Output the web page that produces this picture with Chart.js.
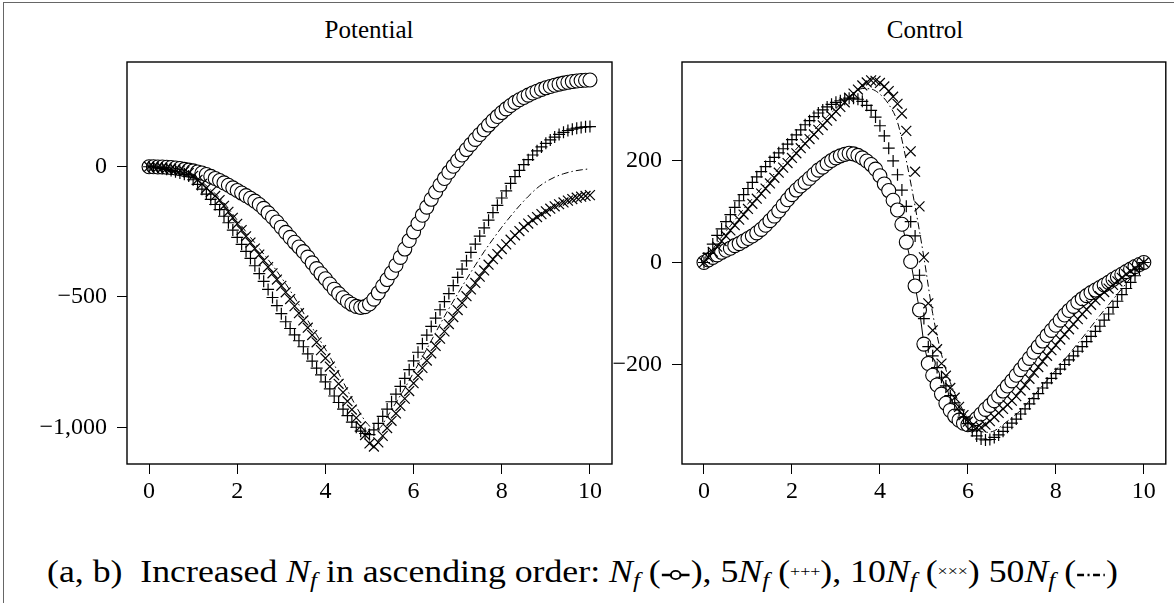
<!DOCTYPE html>
<html>
<head>
<meta charset="utf-8">
<script src="https://cdn.jsdelivr.net/npm/chart.js@4.4.0/dist/chart.umd.min.js"></script>
<style>
  body { margin: 0; background: #fff; width: 1174px; height: 603px; overflow: hidden; position: relative; font-family: 'Liberation Serif', serif; color: #000; }
  #frame { position: absolute; left: 3px; top: 2px; width: 1171px; height: 601px; border-top: 1px solid #666; border-left: 1px solid #666; }
  canvas { position: absolute; top: 0; }
  .title { position: absolute; top: 16px; font-size: 25px; line-height: 28px; transform: translateX(-50%); white-space: nowrap; }
  #caption { position: absolute; left: 47px; top: 554px; font-size: 31px; line-height: 34px; white-space: nowrap; transform-origin: 0 50%; }
  #caption sub { font-size: 0.7em; line-height: 0; vertical-align: -0.25em; }
  #caption .sm { font-size: 0.5em; vertical-align: 0.4em; }
  #caption svg { vertical-align: -0.02em; }
</style>
</head>
<body>
<div id="frame"></div>
<div class="title" style="left:369px">Potential</div>
<div class="title" style="left:925px">Control</div>
<canvas id="potential" width="630" height="510" style="left:0"></canvas>
<canvas id="control" width="584" height="510" style="left:590px"></canvas>
<div id="caption">(a, b)&nbsp; Increased <i>N<sub>f</sub></i> in ascending order: <i>N<sub>f</sub></i> (<svg width="26" height="16"><line x1="1" y1="8" x2="25" y2="8" stroke="#000" stroke-width="2.6"/><circle cx="13" cy="8" r="4.2" fill="#fff" stroke="#000" stroke-width="1.8"/></svg>), 5<i>N<sub>f</sub></i> (<span class="sm">+++</span>), 10<i>N<sub>f</sub></i> (<span class="sm">×××</span>) 50<i>N<sub>f</sub></i> (<svg width="26" height="16"><line x1="1" y1="8" x2="25" y2="8" stroke="#000" stroke-width="2.4" stroke-dasharray="6,3,1.8,3"/></svg>)</div>

<script>
// grid of the marked series (step 0.1) and of the dash-dot line (step 0.2)
const xs = [0,0.1,0.2,0.3,0.4,0.5,0.6,0.7,0.8,0.9,1,1.1,1.2,1.3,1.4,1.5,1.6,1.7,1.8,1.9,2,2.1,2.2,2.3,2.4,2.5,2.6,2.7,2.8,2.9,3,3.1,3.2,3.3,3.4,3.5,3.6,3.7,3.8,3.9,4,4.1,4.2,4.3,4.4,4.5,4.6,4.7,4.8,4.9,5,5.1,5.2,5.3,5.4,5.5,5.6,5.7,5.8,5.9,6,6.1,6.2,6.3,6.4,6.5,6.6,6.7,6.8,6.9,7,7.1,7.2,7.3,7.4,7.5,7.6,7.7,7.8,7.9,8,8.1,8.2,8.3,8.4,8.5,8.6,8.7,8.8,8.9,9,9.1,9.2,9.3,9.4,9.5,9.6,9.7,9.8,9.9,10];
const xsLine = [0,0.2,0.4,0.6,0.8,1,1.2,1.4,1.6,1.8,2,2.2,2.4,2.6,2.8,3,3.2,3.4,3.6,3.8,4,4.2,4.4,4.6,4.8,5,5.2,5.4,5.6,5.8,6,6.2,6.4,6.6,6.8,7,7.2,7.4,7.6,7.8,8,8.2,8.4,8.6,8.8,9,9.2,9.4,9.6,9.8,10];

const xTicks = [0, 2, 4, 6, 8, 10];
const potTicksY = [-1000, -500, 0];
const ctrlTicksY = [-200, 0, 200];

// Potential: Nf, 5Nf, 10Nf, 50Nf
const potNf = [0,0,-1,-1,-2,-3,-5,-7,-10,-13,
  -16,-20,-24,-30,-37,-45,-53,-62,-71,-81,
  -91,-101,-111,-121,-132,-145,-160,-177,-194,-212,
  -232,-252,-271,-290,-308,-326,-347,-369,-391,-411,
  -430,-450,-470,-487,-503,-517,-528,-536,-540,-537,
  -527,-508,-484,-458,-433,-407,-378,-348,-316,-283,
  -250,-218,-186,-155,-125,-97,-70,-45,-21,2,
  24,45,66,86,105,124,142,160,177,193,
  208,222,235,247,257,266,275,283,290,297,
  303,308,313,317,321,324,327,329,331,332,
  333];
const pot5Nf = [0,-1,-3,-6,-10,-14,-19,-24,-29,-36,
  -50,-68,-86,-105,-125,-145,-165,-190,-215,-243,
  -271,-298,-325,-352,-380,-410,-440,-471,-502,-533,
  -564,-595,-621,-645,-668,-691,-718,-746,-773,-799,
  -826,-853,-880,-905,-930,-955,-980,-1000,-1015,-1024,
  -1028,-1010,-985,-958,-930,-902,-873,-843,-812,-779,
  -745,-712,-679,-646,-613,-581,-549,-518,-487,-456,
  -425,-393,-361,-329,-297,-266,-235,-205,-176,-148,
  -120,-93,-64,-38,-14,8,27,45,61,76,
  90,103,114,124,132,139,144,148,151,153,
  154];
const pot10Nf = [0,-1,-2,-4,-6,-8,-11,-14,-17,-24,
  -35,-50,-66,-82,-97,-112,-128,-150,-173,-196,
  -219,-243,-267,-291,-314,-337,-360,-385,-409,-433,
  -457,-482,-508,-535,-562,-590,-618,-646,-674,-704,
  -735,-767,-800,-833,-866,-900,-932,-964,-997,-1030,
  -1062,-1074,-1058,-1033,-1003,-975,-947,-918,-890,-861,
  -831,-801,-772,-744,-716,-688,-660,-632,-604,-577,
  -550,-523,-497,-471,-446,-422,-398,-376,-355,-335,
  -316,-298,-280,-263,-247,-232,-218,-205,-193,-182,
  -171,-161,-152,-144,-137,-130,-124,-119,-115,-112,
  -109];
const pot50Nf = [0,-1,-4,-8,-14,-30,-58,-88,-120,-160,
  -205,-250,-292,-335,-378,-425,-475,-530,-590,-645,
  -700,-760,-825,-890,-950,-995,-1005,-960,-905,-850,
  -790,-730,-668,-605,-545,-488,-432,-378,-326,-278,
  -232,-190,-150,-114,-82,-58,-40,-27,-18,-12,
  -8];

// Control: Nf, 5Nf, 10Nf, 50Nf
const ctrlNf = [0,5,10,15,20,24,28,33,37,42,
  47,52,58,65,73,82,91,101,112,123,
  133,142,150,157,165,173,181,187,194,200,
  205,209,212,214,213,210,205,199,192,183,
  170,154,141,122,103,75,40,2,-46,-93,
  -160,-198,-221,-240,-258,-276,-290,-301,-309,-315,
  -318,-314,-306,-297,-288,-280,-271,-262,-252,-242,
  -232,-221,-210,-199,-188,-176,-165,-154,-143,-133,
  -123,-113,-103,-94,-86,-78,-71,-65,-59,-54,
  -49,-44,-39,-33,-28,-23,-18,-13,-8,-4,
  0];
const ctrl5Nf = [0,18,36,53,66,80,94,108,121,133,
  145,157,168,178,188,198,206,215,223,232,
  241,250,260,270,278,286,293,299,305,310,
  314,317,320,322,322,320,316,308,298,285,
  268,248,224,199,172,142,110,80,52,-25,
  -110,-165,-183,-206,-225,-242,-261,-275,-289,-303,
  -316,-330,-340,-346,-348,-347,-343,-338,-331,-323,
  -315,-307,-297,-287,-277,-267,-257,-246,-236,-227,
  -218,-209,-200,-191,-183,-174,-165,-155,-145,-135,
  -125,-113,-101,-88,-76,-63,-51,-39,-26,-13,
  0];
const ctrl10Nf = [0,10,21,31,42,52,63,73,84,94,
  105,115,125,135,145,155,166,176,186,195,
  205,214,224,233,242,251,260,269,278,287,
  296,305,314,323,331,339,347,353,357,356,
  352,345,336,325,311,292,258,218,178,110,
  10,-80,-133,-170,-198,-222,-246,-265,-283,-299,
  -312,-320,-324,-323,-318,-311,-303,-295,-287,-279,
  -271,-262,-251,-240,-228,-216,-205,-194,-183,-172,
  -162,-151,-141,-131,-121,-111,-101,-92,-83,-74,
  -66,-58,-51,-44,-37,-30,-23,-17,-11,-5,
  0];
const ctrl50Nf = [0,26,50,72,94,115,135,155,174,194,
  213,232,250,268,286,302,318,332,341,340,
  330,310,275,200,110,10,-100,-180,-235,-275,
  -305,-325,-333,-330,-318,-304,-290,-271,-251,-231,
  -211,-190,-169,-148,-126,-104,-83,-62,-41,-20,
  0];

Chart.defaults.font.family = "'Liberation Serif', serif";
Chart.defaults.color = '#000';

const boxPlugin = {
  id: 'box',
  afterDraw(chart) {
    const a = chart.chartArea;
    const c = chart.ctx;
    c.save();
    c.strokeStyle = '#000';
    c.lineWidth = 1.4;
    c.strokeRect(a.left, a.top, a.right - a.left, a.bottom - a.top);
    c.restore();
  }
};

function pts(x, y) {
  return x.map((v, i) => ({ x: v, y: y[i] }));
}

function fmt(v) {
  return (v < 0 ? '\u2212' : '') + Math.abs(v).toLocaleString('en-US');
}

function makeChart(id, series, yMin, yMax, yTicks, axisWidth, padRight) {
  return new Chart(document.getElementById(id), {
    type: 'scatter',
    data: {
      datasets: [{
        data: pts(xs, series[0]),
        showLine: true,
        borderColor: '#000',
        borderWidth: 1,
        pointStyle: 'circle',
        pointRadius: 7,
        pointBackgroundColor: '#fff',
        pointBorderColor: '#000',
        pointBorderWidth: 1.1,
        order: 4,
        clip: false
      }, {
        data: pts(xs, series[1]),
        showLine: false,
        pointStyle: 'cross',
        pointRadius: 6,
        pointBorderColor: '#000',
        pointBorderWidth: 1.2,
        order: 3,
        clip: false
      }, {
        data: pts(xs, series[2]),
        showLine: false,
        pointStyle: 'crossRot',
        pointRadius: 7,
        pointBorderColor: '#000',
        pointBorderWidth: 1.2,
        order: 2,
        clip: false
      }, {
        data: pts(xsLine, series[3]),
        showLine: true,
        borderColor: '#000',
        borderWidth: 1,
        borderDash: [7, 3, 1.5, 3],
        cubicInterpolationMode: 'monotone',
        pointRadius: 0,
        order: 1,
        clip: false
      }]
    },
    options: {
      responsive: false,
      animation: false,
      events: [],
      layout: { padding: { top: 62, right: padRight, left: 0, bottom: 0 } },
      plugins: { legend: { display: false }, tooltip: { enabled: false } },
      scales: {
        x: {
          type: 'linear',
          min: -0.5,
          max: 10.5,
          afterBuildTicks: s => { s.ticks = xTicks.map(v => ({ value: v })); },
          afterFit: s => { s.height = 46; },
          border: { display: false },
          grid: { drawOnChartArea: false, drawTicks: true, tickLength: 10, color: '#000', lineWidth: 1 },
          ticks: { font: { size: 24 }, color: '#000', padding: 3, maxRotation: 0, autoSkip: false, callback: v => fmt(v) }
        },
        y: {
          type: 'linear',
          min: yMin,
          max: yMax,
          afterBuildTicks: s => { s.ticks = yTicks.map(v => ({ value: v })); },
          afterFit: s => { s.width = axisWidth; },
          border: { display: false },
          grid: { drawOnChartArea: false, drawTicks: true, tickLength: 10, color: '#000', lineWidth: 1 },
          ticks: { font: { size: 24 }, color: '#000', padding: 10, autoSkip: false, callback: v => fmt(v) }
        }
      }
    },
    plugins: [boxPlugin]
  });
}

makeChart('potential', [potNf, pot5Nf, pot10Nf, pot50Nf], -1141, 402, potTicksY, 127, 18);
makeChart('control', [ctrlNf, ctrl5Nf, ctrl10Nf, ctrl50Nf], -395, 393, ctrlTicksY, 92, 7);

// stretch the caption to the width it has in the figure (47..1118)
const cap = document.getElementById('caption');
const capW = cap.getBoundingClientRect().width;
cap.style.transform = 'scaleX(' + (1071 / capW) + ')';
</script>
</body>
</html>
